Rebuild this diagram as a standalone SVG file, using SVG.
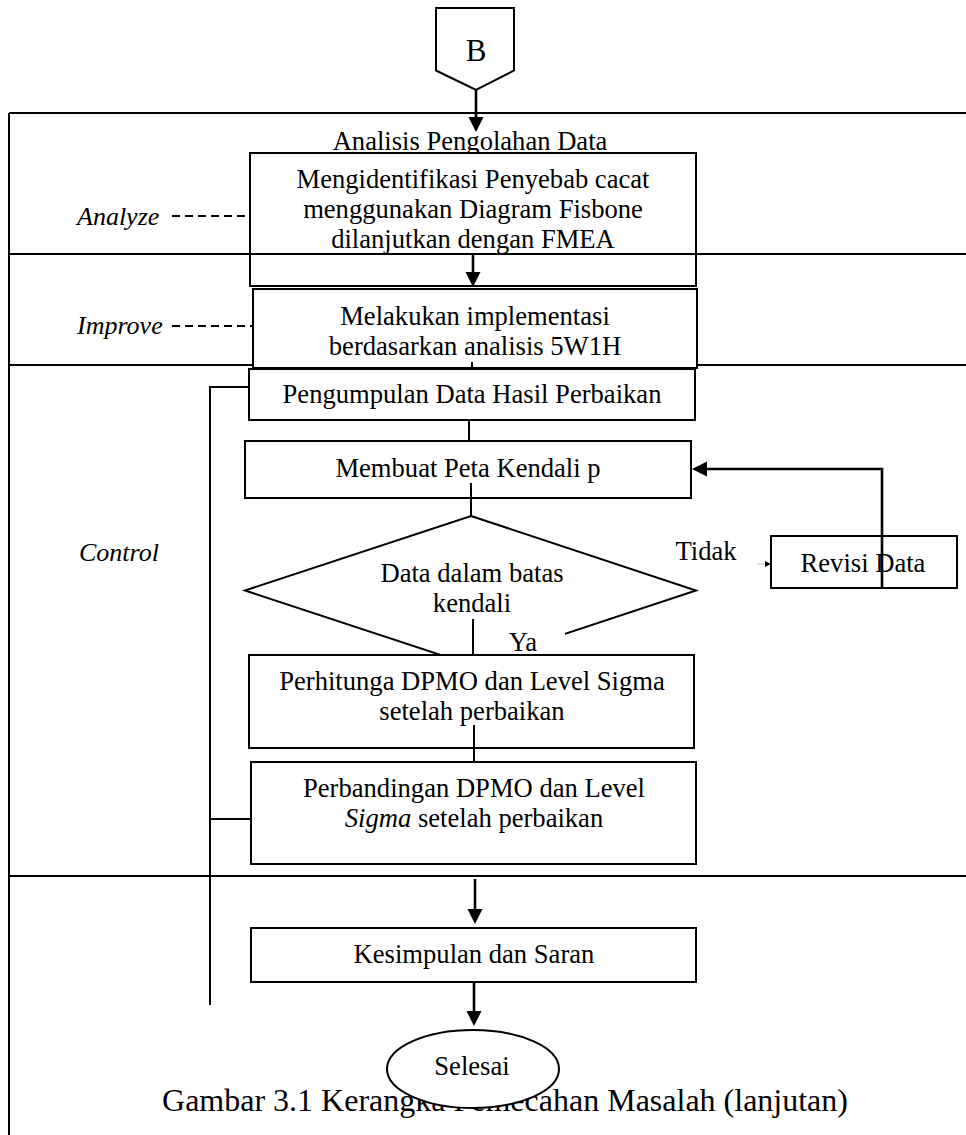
<svg xmlns="http://www.w3.org/2000/svg" width="966" height="1135" viewBox="0 0 966 1135">
  <style>
    .t { font-family: "Liberation Serif", "Times New Roman", serif; font-size: 26.6px; fill: #000; text-anchor: middle; }
    .lane { font-family: "Liberation Serif", "Times New Roman", serif; font-size: 26px; font-style: italic; fill: #000; }
    .box { fill: #fff; stroke: #000; stroke-width: 2; }
    .rule { stroke: #000; stroke-width: 2; fill: none; }
    .dash { stroke: #000; stroke-width: 1.8; stroke-dasharray: 8 5; fill: none; }
    .link { stroke: #000; stroke-width: 2; fill: none; }
    .flow { stroke: #000; stroke-width: 2.6; fill: none; marker-end: url(#head); }
  </style>
  <defs>
    <marker id="head" markerUnits="userSpaceOnUse" markerWidth="16" markerHeight="16" viewBox="0 0 16 16" refX="7" refY="8" orient="auto">
      <path d="M0,0.5 L15,8 L0,15.5 z" fill="#000"/>
    </marker>
  </defs>

  <rect width="966" height="1135" fill="#fff"/>

  <!-- swimlane frame -->
  <g id="lanes">
    <line class="rule" x1="9" y1="113" x2="966" y2="113"/>
    <line class="rule" x1="9" y1="113" x2="9" y2="1135"/>
    <line class="rule" x1="9" y1="365" x2="966" y2="365"/>
    <line class="rule" x1="9" y1="876" x2="966" y2="876"/>
    <text class="lane" x="77" y="225">Analyze</text>
    <line class="dash" x1="172" y1="216" x2="250" y2="216"/>
    <text class="lane" x="77" y="334">Improve</text>
    <line class="dash" x1="172" y1="326" x2="253" y2="326"/>
    <text class="lane" x="79" y="561">Control</text>
  </g>

  <!-- off-page connector B -->
  <g id="node-b">
    <polygon class="box" points="436,8 514,8 514,70.5 476,90 436,70.5"/>
    <text class="t" x="476" y="61" style="font-size:31px">B</text>
  </g>

  <!-- Analyze -->
  <g id="node-analyze">
    <text class="t" x="470" y="150">Analisis Pengolahan Data</text>
    <rect class="box" x="250" y="153" width="446" height="133"/>
    <text class="t" x="473" y="188">Mengidentifikasi Penyebab cacat</text>
    <text class="t" x="473" y="218">menggunakan Diagram Fisbone</text>
    <text class="t" x="473" y="248">dilanjutkan dengan FMEA</text>
  </g>

  <!-- divider between Analyze and Improve, drawn over the box -->
  <g id="lane-divider">
    <line class="rule" x1="9" y1="254" x2="966" y2="254"/>
  </g>

  <!-- Improve -->
  <g id="node-improve">
    <rect class="box" x="253" y="289" width="444" height="79"/>
    <text class="t" x="475" y="325">Melakukan implementasi</text>
    <text class="t" x="475" y="355">berdasarkan analisis 5W1H</text>
  </g>

  <!-- Control -->
  <g id="node-collect">
    <rect class="box" x="249" y="369" width="446" height="51"/>
    <text class="t" x="472" y="403">Pengumpulan Data Hasil Perbaikan</text>
  </g>

  <g id="node-chart">
    <rect class="box" x="245" y="441" width="446" height="57"/>
    <text class="t" x="468" y="477">Membuat Peta Kendali p</text>
  </g>

  <g id="node-decision">
    <polygon class="box" points="471,516 696,590.5 471,665 245,590.5"/>
    <text class="t" x="472" y="582">Data dalam batas</text>
    <text class="t" x="472" y="612">kendali</text>
  </g>

  <g id="node-revisi">
    <rect class="box" x="771" y="536" width="186" height="52"/>
    <text class="t" x="863" y="572">Revisi Data</text>
  </g>

  <g id="node-dpmo">
    <rect class="box" x="249" y="655" width="445" height="93"/>
    <text class="t" x="472" y="690">Perhitunga DPMO dan Level Sigma</text>
    <text class="t" x="472" y="720">setelah perbaikan</text>
  </g>

  <g id="node-compare">
    <rect class="box" x="251" y="762" width="445" height="102"/>
    <text class="t" x="474" y="797">Perbandingan DPMO dan Level</text>
    <text class="t" x="474" y="827"><tspan font-style="italic">Sigma</tspan> setelah perbaikan</text>
  </g>

  <g id="node-kesimpulan">
    <rect class="box" x="251" y="928" width="445" height="54"/>
    <text class="t" x="474" y="963">Kesimpulan dan Saran</text>
  </g>

  <!-- caption sits under the terminator -->
  <g id="caption">
    <text class="t" x="505" y="1111" style="font-size:32px">Gambar 3.1 Kerangka Pemecahan Masalah (lanjutan)</text>
  </g>

  <g id="node-selesai">
    <ellipse class="box" cx="473" cy="1069" rx="86" ry="39"/>
    <text class="t" x="472" y="1075">Selesai</text>
  </g>

  <!-- connectors -->
  <g id="connectors">
    <line class="flow" x1="476" y1="90" x2="476" y2="124"/>
    <line class="flow" x1="473" y1="254" x2="473" y2="279"/>
    <line class="link" x1="472" y1="362" x2="472" y2="369"/>
    <line class="link" x1="469" y1="420" x2="469" y2="441"/>
    <line class="link" x1="471" y1="483" x2="471" y2="517"/>
    <line class="link" x1="473" y1="619" x2="473" y2="655"/>
    <line class="link" x1="474" y1="725" x2="474" y2="762"/>
    <path class="flow" d="M882,588 V469 H700"/>
    <line x1="757" y1="564" x2="765" y2="564" stroke="#bbb" stroke-width="1"/>
    <polygon points="765,561 771,564 765,567" fill="#000"/>
    <path class="link" d="M249,387 H210 V1005"/>
    <line class="link" x1="210" y1="819" x2="251" y2="819"/>
    <line class="flow" x1="475" y1="879" x2="475" y2="916"/>
    <line class="flow" x1="474" y1="982" x2="474" y2="1018"/>
  </g>

  <!-- branch labels -->
  <g id="labels">
    <text class="t" x="706" y="560">Tidak</text>
    <rect x="500" y="628" width="65" height="26" fill="#fff"/>
    <text class="t" x="523" y="651">Ya</text>
  </g>
</svg>
